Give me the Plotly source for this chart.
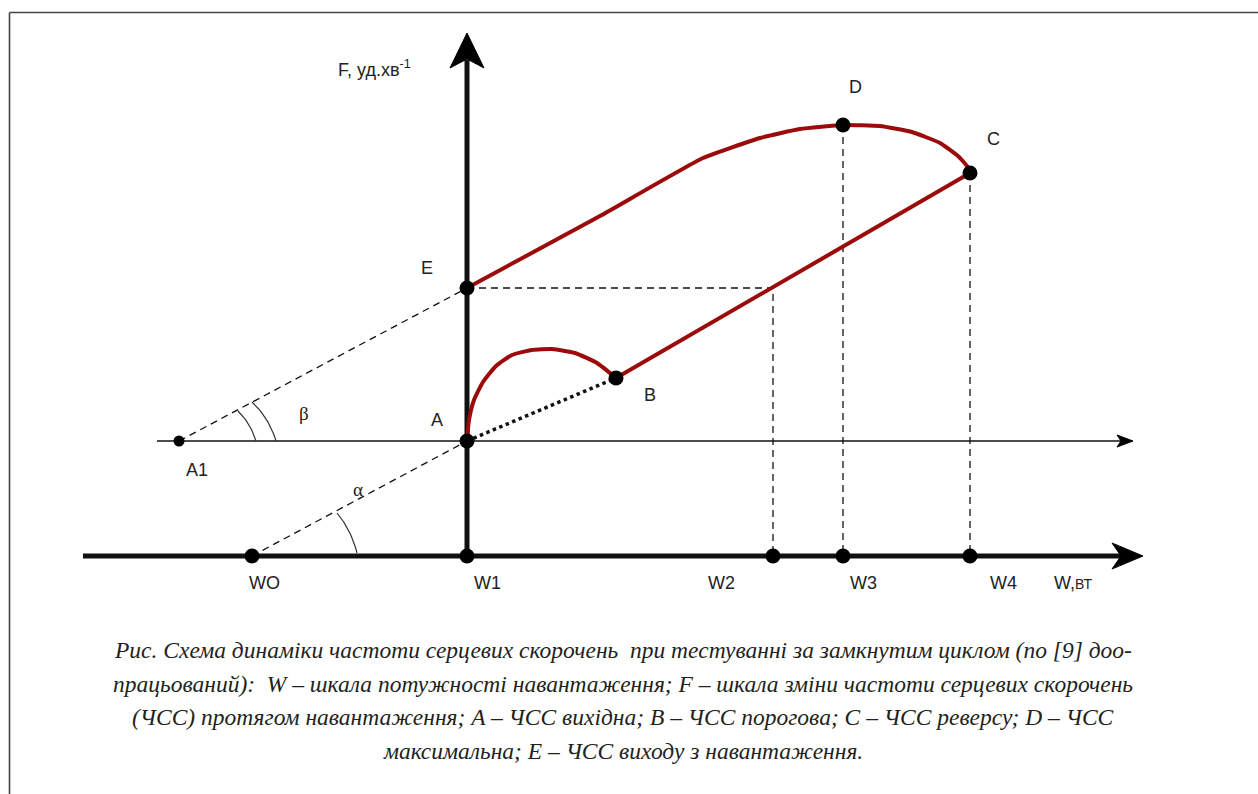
import math
import plotly.graph_objects as go

# ---------------- data (diagram units: W to the right, F upward) ----------------
point_names = ["A1", "A", "B", "C", "D", "E"]
point_W = [179, 467, 616, 970, 843, 467]
point_F = [353, 353, 416, 621, 669, 506]

w_tick_names = ["WO", "W1", "W2", "W3", "W4"]
w_tick_vals = [252, 467, 773, 843, 970]
W_AXIS_F = 238      # F level of the W axis
BASE_F = 353        # F level of the thin baseline through A

# curve A -> B (threshold hump)
arc_AB_W = [467, 469, 474, 483, 496, 512, 532, 552, 575, 597, 616]
arc_AB_F = [353, 374, 394, 412, 428, 439, 444, 445, 441, 431, 416]

# curve E -> D -> C (recovery)
curve_EDC_W = [467, 600, 703, 760, 800, 843, 880, 912, 940, 958, 967, 970]
curve_EDC_F = [506, 578, 636, 656, 665, 669, 668, 662, 651, 638, 628, 621]

P = {n: (w, f) for n, w, f in zip(point_names, point_W, point_F)}
WT = dict(zip(w_tick_names, w_tick_vals))

RED = "#9b0b0b"
INK = "#111111"
LABEL_FONT = dict(family="Liberation Sans, Arial, sans-serif", size=18, color="#222222")

fig = go.Figure()

def line(xs, ys, color=INK, width=1.3, dash=None, shape="linear", smoothing=None):
    ln = dict(color=color, width=width, shape=shape)
    if dash:
        ln["dash"] = dash
    if smoothing is not None:
        ln["smoothing"] = smoothing
    fig.add_trace(go.Scatter(x=xs, y=ys, mode="lines", line=ln, hoverinfo="skip", showlegend=False))

# thin baseline through A
line([157, 1122], [BASE_F, BASE_F], width=1.3)
# W axis (thick)
line([83, 1125], [W_AXIS_F, W_AXIS_F], width=5)
# F axis (thick)
line([P["A"][0], P["A"][0]], [W_AXIS_F - 4, 794 - 60], width=5)

# dashed construction lines
line([P["A1"][0], P["E"][0]], [P["A1"][1], P["E"][1]], dash="7px,5px")
line([WT["WO"], P["A"][0]], [W_AXIS_F, P["A"][1]], dash="7px,5px")
# E horizontal to B-C line, then down to W2
line([P["E"][0], WT["W2"], WT["W2"]], [P["E"][1], P["E"][1], W_AXIS_F], dash="7px,5px")
line([P["D"][0], WT["W3"]], [P["D"][1], W_AXIS_F], dash="7px,5px")
line([P["C"][0], WT["W4"]], [P["C"][1], W_AXIS_F], dash="7px,5px")

# dotted A -> B
line([P["A"][0], P["B"][0]], [P["A"][1], P["B"][1]], width=3.5, dash="dot")

# red curves
line(arc_AB_W, arc_AB_F, color=RED, width=4, shape="spline", smoothing=0.5)
line([P["B"][0], P["C"][0]], [P["B"][1], P["C"][1]], color=RED, width=4)
line(curve_EDC_W, curve_EDC_F, color=RED, width=4, shape="spline", smoothing=0.4)

# angle marks (decorative arcs)
def angle_arc(cx, cy, p_start, p_end):
    a0 = math.atan2(p_start[1] - cy, p_start[0] - cx)
    a1 = math.atan2(p_end[1] - cy, p_end[0] - cx)
    r0 = math.hypot(p_start[0] - cx, p_start[1] - cy)
    r1 = math.hypot(p_end[0] - cx, p_end[1] - cy)
    xs, ys = [], []
    n = 20
    for i in range(n + 1):
        t = i / n
        a = a0 + (a1 - a0) * t
        r = r0 + (r1 - r0) * t
        xs.append(cx + r * math.cos(a))
        ys.append(cy + r * math.sin(a))
    line(xs, ys, color="#333333", width=1.2)

ax1, ay1 = P["A1"]
angle_arc(ax1, ay1, (238, 383), (256, 353))
angle_arc(ax1, ay1, (252, 392), (276, 353))
angle_arc(WT["WO"], W_AXIS_F, (337, 281), (357, 241))

# points
fig.add_trace(go.Scatter(
    x=[P[n][0] for n in ["A", "B", "C", "D", "E"]] + w_tick_vals,
    y=[P[n][1] for n in ["A", "B", "C", "D", "E"]] + [W_AXIS_F] * len(w_tick_vals),
    mode="markers", marker=dict(color="black", size=15), hoverinfo="skip", showlegend=False))
fig.add_trace(go.Scatter(x=[P["A1"][0]], y=[P["A1"][1]], mode="markers",
                         marker=dict(color="black", size=11), hoverinfo="skip", showlegend=False))

# arrowheads (decorative)
shapes = []
def arrowhead(path):
    shapes.append(dict(type="path", path=path, fillcolor="black", line=dict(color="black", width=1),
                       xref="x", yref="y", layer="above"))
arrowhead("M 1143,238 L 1112,251 L 1121,238 L 1112,225 Z")
arrowhead("M 467,761 L 450,726 L 467,735 L 484,726 Z")
arrowhead("M 1133,353 L 1117,359 L 1121,353 L 1117,347 Z")

# frame (top and left edges)
shapes.append(dict(type="line", xref="paper", yref="paper", x0=9.5 / 1258, x1=1, y0=1 - 12.5 / 794, y1=1 - 12.5 / 794,
                   line=dict(color="#444444", width=1.6)))
shapes.append(dict(type="line", xref="paper", yref="paper", x0=9.5 / 1258, x1=9.5 / 1258, y0=0, y1=1 - 12.5 / 794,
                   line=dict(color="#444444", width=1.6)))

# labels
annotations = []
def label(text, x, y, font=LABEL_FONT, xanchor="center"):
    annotations.append(dict(text=text, x=x, y=y, xref="x", yref="y", showarrow=False,
                            font=font, xanchor=xanchor, yanchor="middle"))

label_pos = {"A1": (197, 324), "A": (437, 374), "B": (650, 399), "C": (993, 655),
             "D": (855, 707), "E": (427, 526)}
for n in point_names:
    label(n, *label_pos[n])
w_label_x = {"WO": 264, "W1": 487, "W2": 721, "W3": 863, "W4": 1003}
for n in w_tick_names:
    label(n, w_label_x[n], 211)
label("W,<span style='font-size:14px'>ВТ</span>", 1073, 211)
label("F, уд.хв<sup>-1</sup>", 374, 726)
greek = dict(family="Liberation Serif, Times New Roman, serif", size=19, color="#222222")
label("β", 304, 381, font=greek)
label("α", 358, 305, font=greek)

caption = [
    "Рис. Схема динаміки частоти серцевих скорочень \u00a0при тестуванні за замкнутим циклом (по [9] доо-",
    "працьований): \u00a0W – шкала потужності навантаження; F – шкала зміни частоти серцевих скорочень",
    "(ЧСС) протягом навантаження; A – ЧСС вихідна; B – ЧСС порогова; C – ЧСС реверсу; D – ЧСС",
    "максимальна; E – ЧСС виходу з навантаження.",
]
cap_font = dict(family="Liberation Serif, Times New Roman, serif", size=23.5, color="#231f20")
for i, t in enumerate(caption):
    label("<i>" + t + "</i>", 623, 794 - (650 + i * 33.5), font=cap_font)

fig.update_layout(
    width=1258, height=794,
    margin=dict(l=0, r=0, t=0, b=0),
    paper_bgcolor="white", plot_bgcolor="white",
    xaxis=dict(range=[0, 1258], visible=False, fixedrange=True),
    yaxis=dict(range=[0, 794], visible=False, fixedrange=True),
    shapes=shapes, annotations=annotations,
)

fig.write_html("out.html", config={"displayModeBar": False},
               post_script="document.body.style.margin='0';document.body.style.overflow='hidden';")
